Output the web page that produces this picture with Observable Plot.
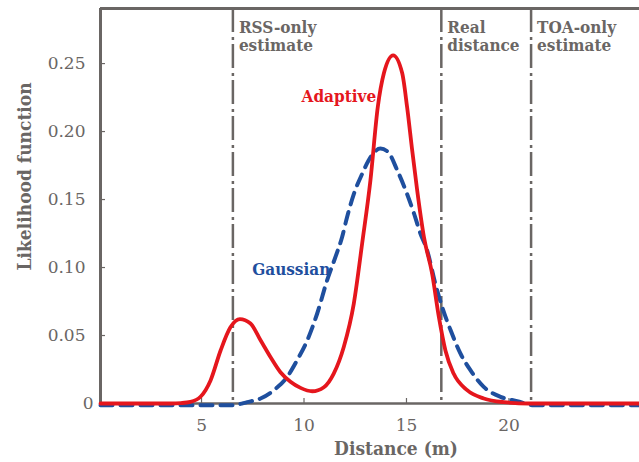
<!DOCTYPE html>
<html>
<head>
<meta charset="utf-8">
<script src="https://cdn.jsdelivr.net/npm/d3@7"></script>
<script src="https://cdn.jsdelivr.net/npm/@observablehq/plot@0.6"></script>
<style>
  html, body { margin: 0; padding: 0; background: #fff; }
  #chart svg { display: block; }
</style>
</head>
<body>
<div id="chart"></div>
<script>
// ---- data ----
const adaptiveDistance = [0.07, 2, 3.5, 4.0, 4.46, 4.95, 5.44, 5.93, 6.41, 6.87, 7.39, 7.88, 8.37, 8.85, 9.34, 9.83, 10.4, 10.97, 11.45, 11.94, 12.43, 12.84, 13.24, 13.6, 13.9, 14.35, 14.79, 15.03, 15.28, 15.52, 15.85, 16.25, 16.58, 16.9, 17.3, 17.96, 18.77, 19.75, 21, 26.37];
const adaptiveLikelihood = [0, 0, 0, 0.0003, 0.0012, 0.005, 0.017, 0.039, 0.056, 0.062, 0.0588, 0.0465, 0.034, 0.023, 0.016, 0.0115, 0.009, 0.012, 0.022, 0.0416, 0.0735, 0.118, 0.164, 0.218, 0.243, 0.256, 0.243, 0.218, 0.186, 0.157, 0.1225, 0.0956, 0.0637, 0.039, 0.022, 0.0098, 0.0037, 0.001, 0, 0];

const gaussianDistance = [0.07, 6.5, 7.23, 7.88, 8.53, 9.18, 9.67, 10.16, 10.64, 11.13, 11.54, 11.86, 12.1, 12.43, 12.84, 13.24, 13.73, 14.1, 14.55, 15.03, 15.36, 15.68, 16.0, 16.41, 16.74, 17.15, 17.63, 18.12, 18.77, 19.59, 20.4, 21.2, 26.37];
const gaussianLikelihood = [-0.0012, -0.0012, 0.001, 0.0037, 0.0098, 0.0196, 0.032, 0.0465, 0.066, 0.0907, 0.108, 0.1225, 0.137, 0.154, 0.169, 0.181, 0.1875, 0.185, 0.1715, 0.154, 0.14, 0.125, 0.113, 0.088, 0.071, 0.054, 0.0368, 0.0245, 0.0122, 0.0049, 0.0017, -0.0012, -0.0012];

const markerDistance = [6.53, 16.7, 21.08];
const markerLabels = ["RSS-only\nestimate", "Real\ndistance", "TOA-only\nestimate"];

const xTicks = [5, 10, 15, 20];
const yTicks = [0.05, 0.10, 0.15, 0.20, 0.25];
const yZeroTick = [0];
const xDomain = [0.07, 26.37];
const yDomain = [0, 0.2905];

const seriesNames = ["Adaptive", "Gaussian"];
const axisTitles = ["Distance (m)", "Likelihood function"];

// ---- build tables ----
const adaptive = adaptiveDistance.map((d, i) => ({distance: d, value: adaptiveLikelihood[i]}));
const gaussian = gaussianDistance.map((d, i) => ({distance: d, value: gaussianLikelihood[i]}));
const markers = markerDistance.map((d, i) => ({distance: d, label: markerLabels[i]}));

const GRAY = "#6a6664";
const RED = "#e5161d";
const BLUE = "#1f4f9e";
const FONT = "'DejaVu Serif Condensed', 'DejaVu Serif', serif";
const TICKFONT = "'DejaVu Serif', serif";

const chart = Plot.plot({
  width: 639,
  height: 462,
  marginLeft: 100,
  marginRight: 0,
  marginTop: 8,
  marginBottom: 59,
  style: {fontFamily: FONT, color: GRAY, background: "#fff", overflow: "visible"},
  x: {domain: xDomain, axis: null},
  y: {domain: yDomain, axis: null},
  marks: [
    // tick labels
    Plot.axisX(xTicks, {tickSize: 0, tickPadding: 15, fontSize: 17, fontFamily: TICKFONT, fill: GRAY, label: null}),
    Plot.axisY(yTicks, {tickSize: 0, tickPadding: 15, fontSize: 17, fontFamily: TICKFONT, fill: GRAY, label: null, tickFormat: d => d.toFixed(2)}),
    Plot.axisY(yZeroTick, {tickSize: 0, tickPadding: 7, fontSize: 17, fontFamily: TICKFONT, fill: GRAY, label: null, tickFormat: d => String(d)}),
    // inward tick marks
    Plot.tickX(xTicks, {stroke: GRAY, strokeWidth: 1.2, insetTop: 390}),
    Plot.tickY(yTicks, {stroke: GRAY, strokeWidth: 1.2, insetRight: 534}),
    // frame lines
    Plot.ruleX([xDomain[0]], {stroke: GRAY, strokeWidth: 3}),
    Plot.ruleY([yDomain[1]], {stroke: GRAY, strokeWidth: 3}),
    Plot.ruleY([yDomain[0]], {stroke: GRAY, strokeWidth: 2.5}),
    // vertical dash-dot markers
    Plot.ruleX(markers, {x: "distance", stroke: GRAY, strokeWidth: 2.5, strokeDasharray: "24,5,3,4"}),
    Plot.text(markers, {x: "distance", y: () => yDomain[1], text: "label", textAnchor: "start", lineAnchor: "top",
      dx: 6, dy: 11, lineHeight: 1.08, fontSize: 17, fontWeight: "bold", fill: GRAY}),
    // curves
    Plot.line(gaussian, {x: "distance", y: "value", curve: "monotone-x", stroke: BLUE, strokeWidth: 4, strokeDasharray: "12,8"}),
    Plot.line(adaptive, {x: "distance", y: "value", curve: "monotone-x", stroke: RED, strokeWidth: 3.8}),
    // series labels
    Plot.text([seriesNames[0]], {x: 9.88, y: 0.2218, text: d => d, textAnchor: "start", lineAnchor: "bottom", fontSize: 17, fontWeight: "bold", fill: RED}),
    Plot.text([seriesNames[1]], {x: 7.47, y: 0.0943, text: d => d, textAnchor: "start", lineAnchor: "bottom", fontSize: 17, fontWeight: "bold", fill: BLUE}),
    // axis titles
    Plot.text([axisTitles[0]], {frameAnchor: "bottom", text: d => d, dx: 26, dy: 51, lineAnchor: "bottom", fontSize: 19, fontWeight: "bold", fill: GRAY}),
    Plot.text([axisTitles[1]], {x: () => xDomain[0], y: () => 0.167, text: d => d, rotate: -90, dx: -76, lineAnchor: "middle", fontSize: 19, fontWeight: "bold", fill: GRAY})
  ]
});

document.getElementById("chart").appendChild(chart);
</script>
</body>
</html>
